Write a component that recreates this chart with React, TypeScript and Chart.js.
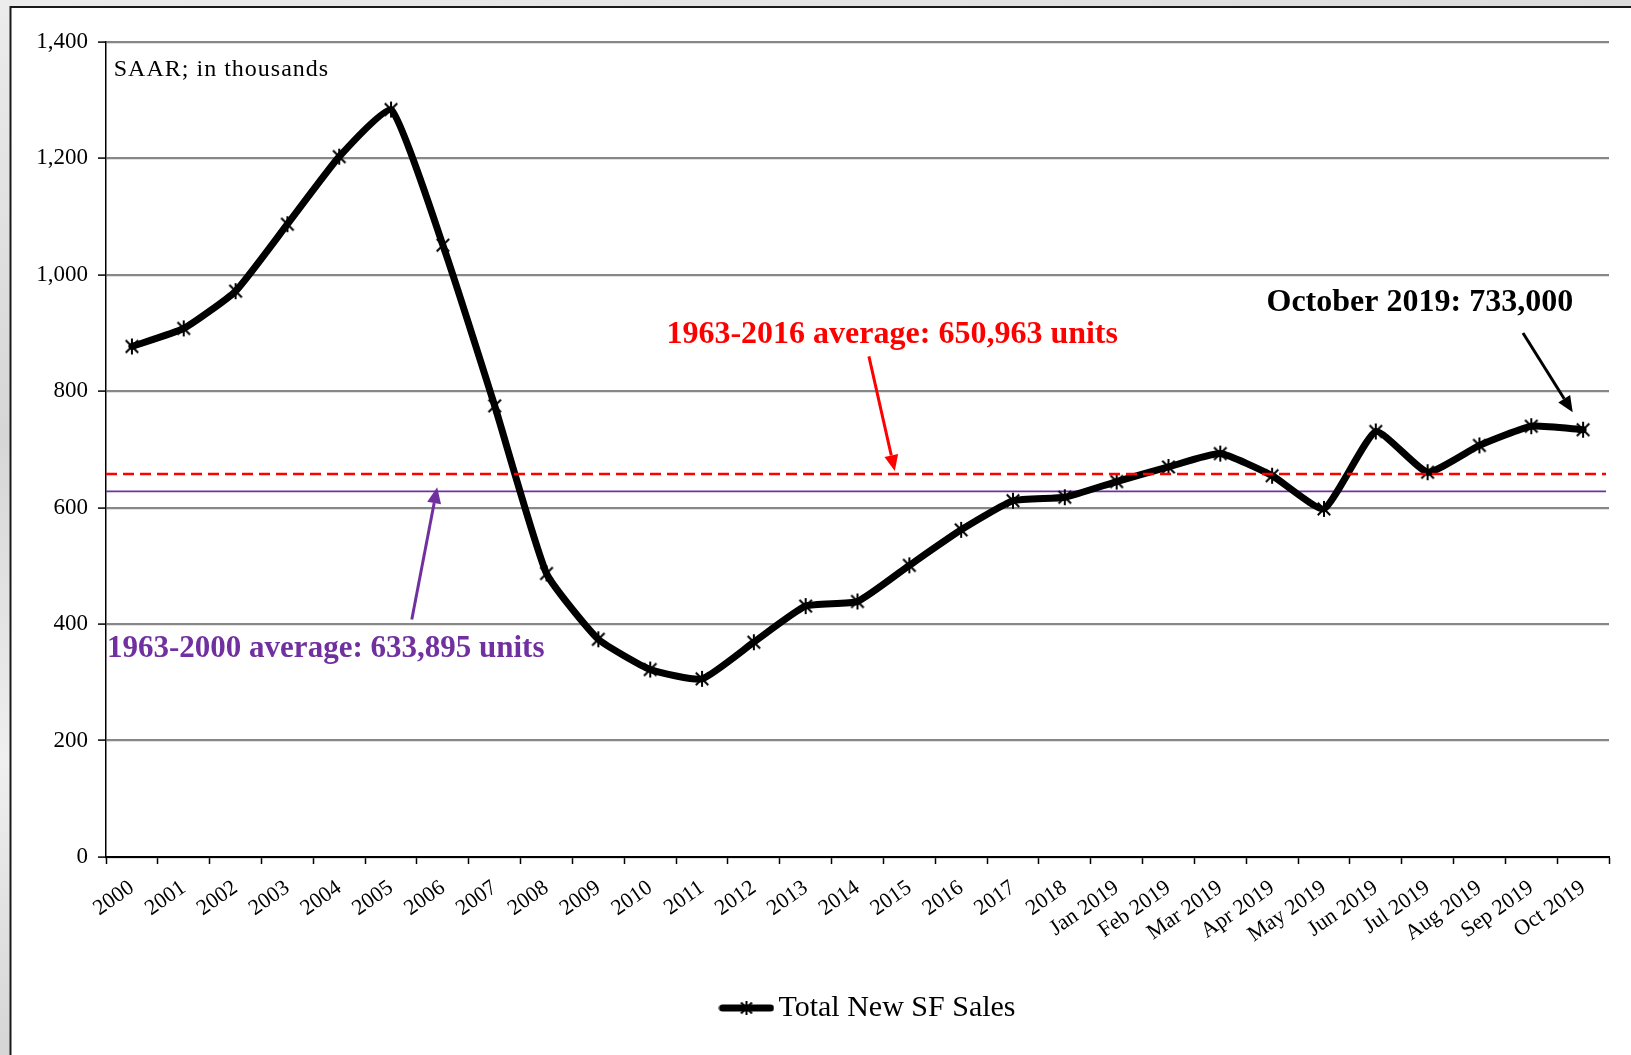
import React, { useEffect, useRef } from "react";
import { Chart, registerables } from "chart.js";

Chart.register(...registerables);

const FONT = '"Liberation Serif", "Times New Roman", serif';

// ---- data ----
const categories = [
  "2000", "2001", "2002", "2003", "2004", "2005", "2006", "2007", "2008", "2009",
  "2010", "2011", "2012", "2013", "2014", "2015", "2016", "2017", "2018",
  "Jan 2019", "Feb 2019", "Mar 2019", "Apr 2019", "May 2019", "Jun 2019",
  "Jul 2019", "Aug 2019", "Sep 2019", "Oct 2019",
];
const salesValues = [
  877, 908, 972, 1087, 1203, 1284, 1051, 775, 487, 374,
  322, 306, 369, 431, 439, 501, 562, 612, 618,
  645, 670, 693, 655, 598, 731,
  661, 707, 740, 734,
];
const seriesLabel = "Total New SF Sales";
const yTickValues = [0, 200, 400, 600, 800, 1000, 1200, 1400];
// reference lines as drawn (1963-2016 avg, 1963-2000 avg)
const avg2016Value = 658;
const avg2000Value = 628;
const unitNote = "SAAR; in thousands";
const avg2016Text = "1963-2016 average: 650,963 units";
const avg2000Text = "1963-2000 average: 633,895 units";
const latestText = "October 2019: 733,000";

function makeStarCanvas(size: number, lw: number) {
  const c = document.createElement("canvas");
  c.width = size;
  c.height = size;
  const g = c.getContext("2d")!;
  g.strokeStyle = "#000";
  g.lineWidth = lw;
  const m = size / 2;
  const r = size / 2 - 1;
  const d = r * 0.78;
  g.beginPath();
  g.moveTo(m - d, m - d);
  g.lineTo(m + d, m + d);
  g.moveTo(m + d, m - d);
  g.lineTo(m - d, m + d);
  g.moveTo(m, m - r);
  g.lineTo(m, m + r);
  g.stroke();
  return c;
}

function makeLegendMarker() {
  const c = document.createElement("canvas");
  c.width = 56;
  c.height = 18;
  const g = c.getContext("2d")!;
  g.strokeStyle = "#000";
  g.lineCap = "round";
  g.lineWidth = 7;
  g.beginPath();
  g.moveTo(4, 9);
  g.lineTo(52, 9);
  g.stroke();
  const s = makeStarCanvas(16, 2);
  g.drawImage(s, 28 - 8, 9 - 8);
  return c;
}

function drawArrow(ctx: CanvasRenderingContext2D, x1: number, y1: number, x2: number, y2: number, color: string) {
  const ang = Math.atan2(y2 - y1, x2 - x1);
  const headLen = 16;
  const headHalf = 7;
  const bx = x2 - headLen * Math.cos(ang);
  const by = y2 - headLen * Math.sin(ang);
  ctx.save();
  ctx.strokeStyle = color;
  ctx.fillStyle = color;
  ctx.lineWidth = 3;
  ctx.beginPath();
  ctx.moveTo(x1, y1);
  ctx.lineTo(bx, by);
  ctx.stroke();
  ctx.beginPath();
  ctx.moveTo(x2, y2);
  ctx.lineTo(bx + headHalf * Math.sin(ang), by - headHalf * Math.cos(ang));
  ctx.lineTo(bx - headHalf * Math.sin(ang), by + headHalf * Math.cos(ang));
  ctx.closePath();
  ctx.fill();
  ctx.restore();
}

const overlayPlugin = {
  id: "overlay",
  afterLayout(chart: any) {
    // legend sits a little right of the plot centre in the reference
    if (chart.legend) {
      chart.legend.left += 15;
      chart.legend.right += 15;
    }
  },
  beforeDraw(chart: any) {
    const { ctx, width, height } = chart;
    ctx.save();
    const grd = ctx.createLinearGradient(0, 0, 200, height);
    grd.addColorStop(0, "#ececec");
    grd.addColorStop(0.4, "#d6d6d6");
    grd.addColorStop(0.7, "#efefef");
    grd.addColorStop(1, "#d2d2d2");
    ctx.fillStyle = grd;
    ctx.fillRect(0, 0, width, height);
    ctx.fillStyle = "#ffffff";
    ctx.fillRect(11, 8, width, height);
    ctx.strokeStyle = "#1a1a1a";
    ctx.lineWidth = 2;
    ctx.beginPath();
    ctx.moveTo(10.5, height);
    ctx.lineTo(10.5, 7);
    ctx.lineTo(width, 7);
    ctx.stroke();
    ctx.restore();
  },
  beforeDatasetsDraw(chart: any) {
    const { ctx, chartArea } = chart;
    const y = chart.scales.y;
    ctx.save();
    ctx.strokeStyle = "#7030a0";
    ctx.lineWidth = 1.6;
    ctx.beginPath();
    const py = y.getPixelForValue(avg2000Value);
    ctx.moveTo(chartArea.left, py);
    ctx.lineTo(chartArea.right - 3, py);
    ctx.stroke();
    ctx.restore();
  },
  afterDatasetsDraw(chart: any) {
    const { ctx, chartArea } = chart;
    const y = chart.scales.y;
    ctx.save();
    ctx.strokeStyle = "#ff0000";
    ctx.lineWidth = 2.5;
    ctx.setLineDash([11, 6]);
    ctx.beginPath();
    const ry = y.getPixelForValue(avg2016Value);
    ctx.moveTo(chartArea.left, ry);
    ctx.lineTo(chartArea.right - 3, ry);
    ctx.stroke();
    ctx.restore();
  },
  afterDraw(chart: any) {
    const { ctx } = chart;
    const xs = chart.scales.x;
    const ys = chart.scales.y;
    const px = (i: number) => xs.getPixelForValue(i);
    const py = (v: number) => ys.getPixelForValue(v);
    ctx.save();
    ctx.textBaseline = "middle";

    ctx.font = `24px ${FONT}`;
    ctx.fillStyle = "#000";
    ctx.textAlign = "left";
    try { (ctx as any).letterSpacing = "1px"; } catch (e) {}
    ctx.fillText(unitNote, px(-0.35), py(1353));
    try { (ctx as any).letterSpacing = "0px"; } catch (e) {}

    ctx.font = `bold 32px ${FONT}`;
    ctx.fillStyle = "#ff0000";
    ctx.textAlign = "center";
    ctx.fillText(avg2016Text, px(14.67), py(898));
    drawArrow(ctx, px(14.22), py(860), px(14.72), py(663), "#ff0000");

    ctx.font = `bold 31px ${FONT}`;
    ctx.fillStyle = "#7030a0";
    ctx.textAlign = "left";
    ctx.fillText(avg2000Text, px(-0.48), py(358));
    drawArrow(ctx, px(5.40), py(408), px(5.89), py(635), "#7030a0");

    ctx.font = `bold 32px ${FONT}`;
    ctx.fillStyle = "#000";
    ctx.textAlign = "center";
    ctx.fillText(latestText, px(24.85), py(952));
    drawArrow(ctx, px(26.84), py(900), px(27.8), py(764), "#000");
    ctx.restore();
  },
};

export default function App() {
  const ref = useRef<HTMLCanvasElement>(null);
  useEffect(() => {
    const canvas = ref.current!;
    const star = makeStarCanvas(18, 2);
    const legendMarker = makeLegendMarker();
    const chart = new Chart(canvas, {
      type: "line",
      data: {
        labels: categories,
        datasets: [
          {
            label: seriesLabel,
            data: salesValues,
            borderColor: "#000",
            backgroundColor: "#000",
            borderWidth: 7,
            tension: 0.15,
            pointStyle: star as any,
            pointRadius: 9,
            pointHoverRadius: 9,
            borderJoinStyle: "round",
            borderCapStyle: "round",
          },
        ],
      },
      options: {
        responsive: false,
        animation: false,
        events: [],
        layout: { padding: { left: 0, right: 22, top: 42, bottom: 22 } },
        plugins: {
          tooltip: { enabled: false },
          legend: {
            position: "bottom",
            fullSize: false,
            labels: {
              usePointStyle: true,
              pointStyleWidth: 34,
              padding: 35,
              color: "#000",
              font: { family: FONT, size: 30 },
              generateLabels: (c: any) =>
                (Chart.defaults.plugins.legend.labels.generateLabels as any)(c).map((l: any) => ({
                  ...l,
                  pointStyle: legendMarker,
                })),
            },
          },
        },
        scales: {
          x: {
            type: "category",
            offset: true,
            grid: {
              offset: true,
              drawOnChartArea: false,
              drawTicks: true,
              tickLength: 7,
              tickColor: "#000",
              tickWidth: 1.5,
            },
            border: { color: "#000", width: 2 },
            ticks: {
              autoSkip: false,
              minRotation: 35,
              maxRotation: 35,
              padding: 11,
              color: "#000",
              font: { family: FONT, size: 22 },
            },
            afterFit: (s: any) => {
              s.height = 101;
            },
          },
          y: {
            min: 0,
            max: 1400,
            afterBuildTicks: (s: any) => {
              s.ticks = yTickValues.map((v) => ({ value: v }));
            },
            ticks: {
              padding: 10,
              color: "#000",
              font: { family: FONT, size: 23 },
              callback: (v: any) => Number(v).toLocaleString("en-US"),
            },
            grid: {
              color: "#878787",
              lineWidth: 2.2,
              tickLength: 8,
              tickColor: "#000",
              tickWidth: 1.5,
            },
            border: { color: "#000", width: 1.5 },
            afterFit: (s: any) => {
              s.width = 106;
            },
          },
        },
      } as any,
      plugins: [overlayPlugin],
    });
    return () => chart.destroy();
  }, []);
  return (
    <div style={{ position: "fixed", left: 0, top: 0, width: 1631, height: 1055 }}>
      <canvas ref={ref} width={1631} height={1055} style={{ display: "block" }} />
    </div>
  );
}
